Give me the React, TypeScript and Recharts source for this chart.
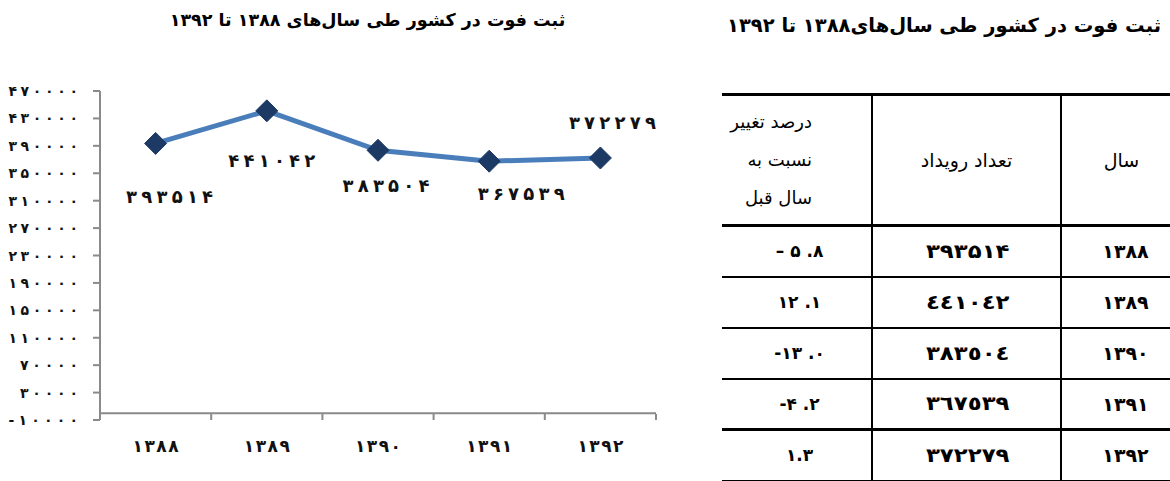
import React from 'react';
import { LineChart, Line, XAxis, YAxis, ReferenceLine, LabelList } from 'recharts';

// ---- data ----
const years = ['۱۳۸۸', '۱۳۸۹', '۱۳۹۰', '۱۳۹۱', '۱۳۹۲'];
const deaths = [393514, 441042, 383504, 367539, 372279];
const pointLabels = ['۳۹۳۵۱۴', '۴۴۱۰۴۲', '۳۸۳۵۰۴', '۳۶۷۵۳۹', '۳۷۲۲۷۹'];
const yTicks = [-10000, 30000, 70000, 110000, 150000, 190000, 230000, 270000, 310000, 350000, 390000, 430000, 470000];
const yTickLabels = ['-۱۰۰۰۰', '۳۰۰۰۰', '۷۰۰۰۰', '۱۱۰۰۰۰', '۱۵۰۰۰۰', '۱۹۰۰۰۰', '۲۳۰۰۰۰', '۲۷۰۰۰۰', '۳۱۰۰۰۰', '۳۵۰۰۰۰', '۳۹۰۰۰۰', '۴۳۰۰۰۰', '۴۷۰۰۰۰'];

const tableYears = ['۱۳۸۸', '۱۳۸۹', '۱۳۹۰', '۱۳۹۱', '۱۳۹۲'];
const tableCounts = ['۳۹۳۵۱۴', '٤٤١٠٤٢', '۳۸۳٥۰٤', '۳٦۷٥۳۹', '۳۷۲۲۷۹'];
const tableChanges = ['– ۵ .۸', '۱۲ .۱', '-۱۳ .۰', '-۴ .۲', '۱.۳'];

// ---- styles ----
const FONT = '"DejaVu Sans", sans-serif';
const AXIS_COLOR = '#8a8a8a';
const LINE_COLOR = '#4a7ebb';
const MARKER_COLOR = '#1c3a64';
const BAND_HALF = 55.6;
const labelDx = [14, 5, 8, 32, 12];
const labelDy = [53, 50, 35, 32, -35];

const chartData = years.map((y, i) => ({ year: y, value: deaths[i], label: pointLabels[i] }));

const Diamond = (props: any) => {
  const { cx, cy } = props;
  if (cx == null || cy == null) return null;
  const r = 11;
  return (
    <path
      d={`M${cx},${cy - r} L${cx + r},${cy} L${cx},${cy + r} L${cx - r},${cy} Z`}
      fill={MARKER_COLOR}
      stroke={MARKER_COLOR}
      strokeWidth={1}
    />
  );
};

const PointLabel = (props: any) => {
  const { x, y, index, value } = props;
  return (
    <text
      x={x + labelDx[index]}
      y={y + labelDy[index]}
      textAnchor="middle"
      dominantBaseline="central"
      fontFamily={FONT}
      fontWeight="bold"
      fontSize={18}
      textLength={String(value).length * 14.5}
      lengthAdjust="spacing"
      fill="#111"
    >
      {value}
    </text>
  );
};

const XTick = (props: any) => {
  const { x, y, payload, index, visibleTicksCount } = props;
  const last = index === visibleTicksCount - 1;
  return (
    <g>
      <line x1={x - BAND_HALF} x2={x - BAND_HALF} y1={y - 6} y2={y} stroke={AXIS_COLOR} strokeWidth={2} />
      {last && <line x1={x + BAND_HALF} x2={x + BAND_HALF} y1={y - 6} y2={y} stroke={AXIS_COLOR} strokeWidth={2} />}
      <text
        x={x}
        y={y + 32}
        textAnchor="middle"
        fontFamily={FONT}
        fontWeight="bold"
        fontSize={17}
        textLength={String(payload.value).length * 11.5}
        lengthAdjust="spacing"
        fill="#111"
      >
        {payload.value}
      </text>
    </g>
  );
};

const YTick = (props: any) => {
  const { x, y, payload } = props;
  const i = yTicks.indexOf(payload.value);
  const label = yTickLabels[i];
  const len = label.length * 11.6;
  return (
    <text
      x={x - len}
      y={y}
      textAnchor="start"
      dominantBaseline="central"
      fontFamily={FONT}
      fontWeight="bold"
      fontSize={14}
      textLength={len}
      lengthAdjust="spacing"
      fill="#111"
    >
      {label}
    </text>
  );
};

const cell: React.CSSProperties = {
  borderLeft: '2px solid #000',
  borderRight: '2px solid #000',
  textAlign: 'center',
  verticalAlign: 'middle',
  padding: 0,
};

export default function App() {
  return (
    <div style={{ position: 'absolute', left: 0, top: 0, width: 1170, height: 481, overflow: 'hidden', background: '#fff' }}>
      {/* left chart */}
      <div
        dir="rtl"
        style={{ position: 'absolute', left: 0, top: 10, width: 735, textAlign: 'center', fontFamily: FONT, fontWeight: 'bold', fontSize: 17.5, color: '#000' }}
      >
        ثبت فوت در کشور طی سال‌های ۱۳۸۸ تا ۱۳۹۲
      </div>
      <div style={{ position: 'absolute', left: 0, top: 0 }}>
        <LineChart width={700} height={481} data={chartData} margin={{ top: 91, right: 44, bottom: 16, left: 0 }}>
          <XAxis
            dataKey="year"
            axisLine={false}
            tickLine={false}
            tickSize={0}
            tickMargin={0}
            height={45}
            padding={{ left: BAND_HALF, right: BAND_HALF }}
            tick={<XTick />}
            interval={0}
          />
          <YAxis
            type="number"
            domain={[-10000, 470000]}
            ticks={yTicks}
            interval={0}
            width={100}
            axisLine={{ stroke: AXIS_COLOR, strokeWidth: 2 }}
            tickLine={{ stroke: AXIS_COLOR, strokeWidth: 2 }}
            tickSize={7}
            tickMargin={15}
            tick={<YTick />}
          />
          <ReferenceLine y={0} stroke={AXIS_COLOR} strokeWidth={2} />
          <Line
            dataKey="value"
            stroke={LINE_COLOR}
            strokeWidth={5}
            dot={<Diamond />}
            activeDot={false}
            isAnimationActive={false}
          >
            <LabelList dataKey="label" content={<PointLabel />} />
          </Line>
        </LineChart>
      </div>

      {/* right table */}
      <div
        dir="rtl"
        style={{ position: 'absolute', right: 9, top: 14, fontFamily: FONT, fontWeight: 'bold', fontSize: 19.5, color: '#000', whiteSpace: 'nowrap' }}
      >
        ثبت  فوت در کشور طی سال‌های۱۳۸۸  تا ۱۳۹۲
      </div>
      <table
        style={{
          position: 'absolute',
          left: 722,
          top: 93,
          width: 480,
          borderCollapse: 'collapse',
          tableLayout: 'fixed',
          fontFamily: FONT,
          color: '#000',
        }}
      >
        <colgroup>
          <col style={{ width: 150 }} />
          <col style={{ width: 189 }} />
          <col style={{ width: 141 }} />
        </colgroup>
        <tbody>
          <tr style={{ height: 131, borderTop: '3px solid #000', borderBottom: '3px solid #000' }}>
            <td style={{ ...cell, borderLeft: 'none', textAlign: 'right', paddingRight: 59, fontSize: 18, lineHeight: '38px' }} dir="rtl">
              درصد تغییر
              <br />
              نسبت به
              <br />
              سال قبل
            </td>
            <td style={{ ...cell, fontSize: 19 }} dir="rtl">تعداد رویداد</td>
            <td style={{ ...cell, fontSize: 19, paddingRight: 20 }} dir="rtl">سال</td>
          </tr>
          {tableYears.map((yr, i) => (
            <tr
              key={yr}
              style={{
                height: 51,
                borderBottom: i === 3 ? '3px solid #000' : '2px solid #000',
              }}
            >
              <td style={{ ...cell, borderLeft: 'none', fontSize: 17, fontWeight: 'bold' }}>
                <span dir="ltr" style={{ paddingLeft: 6 }}>{tableChanges[i]}</span>
              </td>
              <td style={{ ...cell, fontSize: 19.5, fontWeight: 'bold', paddingLeft: 2 }}>
                <span style={{ display: 'inline-block', transform: 'scaleX(1.17)' }}>{tableCounts[i]}</span>
              </td>
              <td style={{ ...cell, fontSize: 19, fontWeight: 'bold', paddingRight: 12 }}>{yr}</td>
            </tr>
          ))}
        </tbody>
      </table>
    </div>
  );
}
